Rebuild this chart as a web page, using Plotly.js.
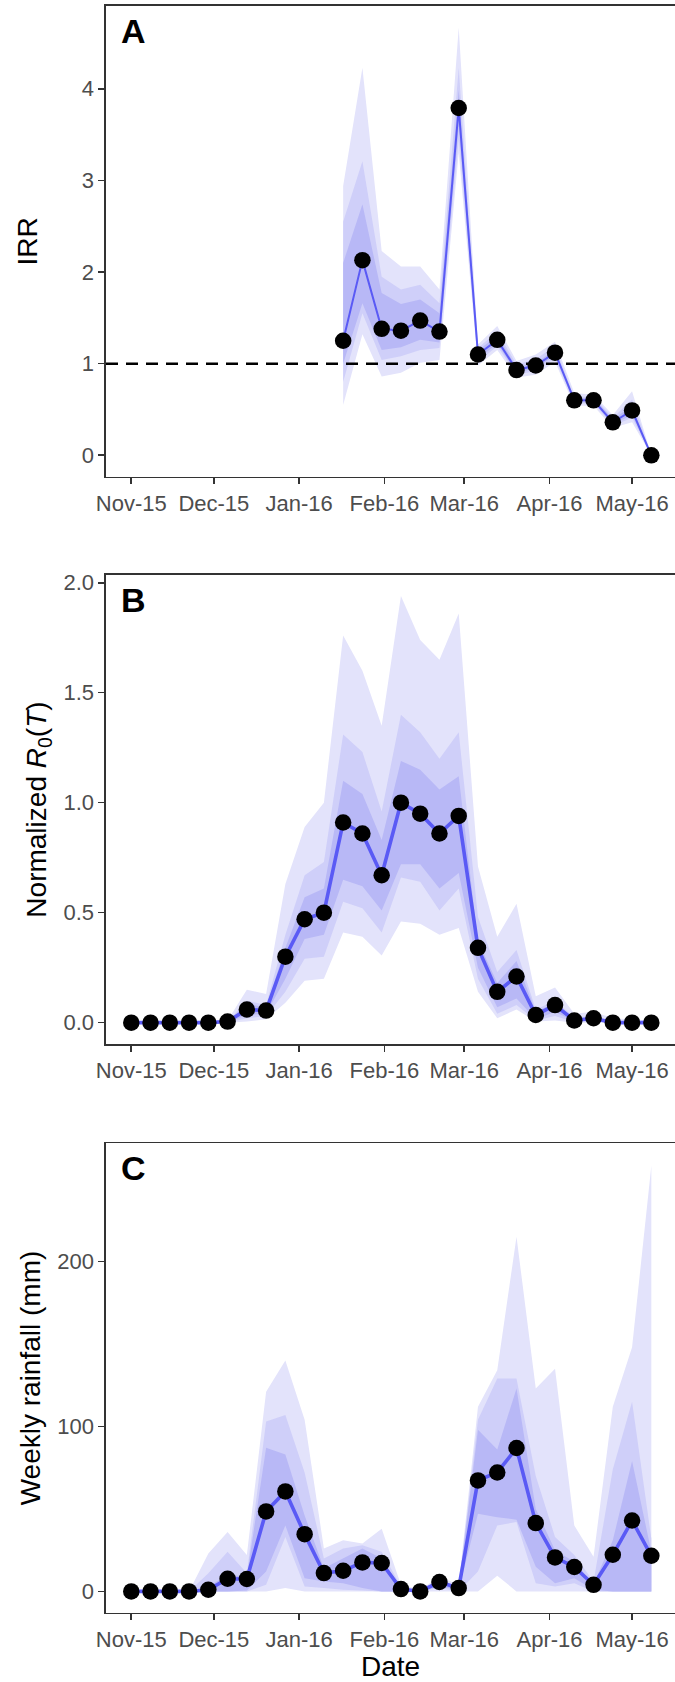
<!DOCTYPE html>
<html>
<head>
<meta charset="utf-8">
<script src="https://cdn.plot.ly/plotly-3.0.1.min.js"></script>
<style>html,body{margin:0;padding:0;background:#fff;}#chart{width:675px;height:1682px;}</style>
</head>
<body>
<div id="chart"></div>
<script>
// ---------- data ----------
const weeks = ['2015-11-01','2015-11-08','2015-11-15','2015-11-22','2015-11-29','2015-12-06','2015-12-13',
  '2015-12-20','2015-12-27','2016-01-03','2016-01-10','2016-01-17','2016-01-24','2016-01-31','2016-02-07',
  '2016-02-14','2016-02-21','2016-02-28','2016-03-06','2016-03-13','2016-03-20','2016-03-27','2016-04-03',
  '2016-04-10','2016-04-17','2016-04-24','2016-05-01','2016-05-08'];
const irrWeeks = weeks.slice(11);

// Panel A: IRR (weeks from 17 Jan 2016)
const irr        = [1.25,2.13,1.38,1.36,1.47,1.35,3.79,1.10,1.26,0.93,0.98,1.12,0.60,0.60,0.36,0.49,0.00];
const irrOuterLo = [0.55,1.32,0.86,0.90,1.01,1.04,3.30,0.98,1.15,0.85,0.88,1.02,0.54,0.54,0.30,0.36,0.00];
const irrOuterHi = [2.94,4.23,2.23,2.06,2.06,1.81,4.67,1.21,1.41,1.03,1.10,1.24,0.68,0.66,0.44,0.70,0.00];
const irrMidLo   = [0.80,1.55,1.04,1.08,1.15,1.17,3.45,1.02,1.19,0.88,0.92,1.06,0.56,0.57,0.32,0.41,0.00];
const irrMidHi   = [2.55,3.21,1.95,1.81,1.86,1.66,4.23,1.17,1.35,0.99,1.05,1.19,0.64,0.64,0.41,0.61,0.00];
const irrInnerLo = [1.00,1.66,1.15,1.18,1.26,1.23,3.60,1.05,1.22,0.90,0.95,1.09,0.58,0.58,0.34,0.44,0.00];
const irrInnerHi = [2.10,2.74,1.77,1.65,1.70,1.55,3.99,1.14,1.31,0.96,1.01,1.15,0.62,0.63,0.39,0.54,0.00];
const irrReference = 1;

// Panel B: normalized R0(T)
const r0        = [0,0,0,0,0,0.005,0.06,0.055,0.30,0.47,0.50,0.91,0.86,0.67,1.00,0.95,0.86,0.94,0.34,0.14,0.21,0.035,0.08,0.01,0.02,0,0,0];
const r0OuterLo = [0,0,0,0,0,0,0.005,0.015,0.09,0.19,0.20,0.41,0.39,0.305,0.46,0.45,0.40,0.43,0.14,0.02,0.06,0.005,0.01,0,0,0,0,0];
const r0OuterHi = [0,0,0,0,0,0.01,0.15,0.13,0.63,0.89,1.00,1.76,1.60,1.35,1.94,1.74,1.65,1.86,0.71,0.39,0.54,0.12,0.16,0.04,0.05,0.02,0.015,0.01];
const r0MidLo   = [0,0,0,0,0,0,0.02,0.03,0.14,0.29,0.30,0.55,0.52,0.41,0.66,0.64,0.51,0.61,0.20,0.04,0.08,0.01,0.03,0.003,0.005,0,0,0];
const r0MidHi   = [0,0,0,0,0,0.005,0.10,0.08,0.40,0.67,0.73,1.31,1.23,0.96,1.40,1.32,1.20,1.32,0.48,0.23,0.33,0.06,0.10,0.025,0.03,0.01,0.005,0.005];
const r0InnerLo = [0,0,0,0,0,0,0.035,0.04,0.20,0.38,0.40,0.65,0.62,0.51,0.72,0.72,0.61,0.68,0.25,0.07,0.11,0.015,0.05,0.005,0.01,0,0,0];
const r0InnerHi = [0,0,0,0,0,0.005,0.085,0.07,0.34,0.57,0.61,1.10,1.04,0.83,1.19,1.15,1.06,1.12,0.37,0.18,0.28,0.05,0.09,0.02,0.025,0.005,0.003,0.003];

// Panel C: weekly rainfall (mm)
const rain        = [0,0,0,0,1.0,7.7,7.5,48.5,60.6,34.7,11.1,12.5,17.6,17.2,1.4,0,5.7,2.0,67.3,72.1,86.9,41.4,20.6,14.8,4.0,22.2,43.0,21.6];
const rainOuterLo = [0,0,0,0,0,0,0,0,2,0,0,0,0,0,0,0,0,0,0,9.5,0,0,0,0,0,0,0,0];
const rainOuterHi = [0,0,0,0,23,36,22,121,140,104,26,31,29,38,4,1,9,4,112,134,215,123,135,40,21,112,148,258];
const rainMidLo   = [0,0,0,0,0,0,0,4,33,3,2,1,0.5,0,0,0,2,0,12,40,42,5,3,5,0,0,0,0];
const rainMidHi   = [0,0,0,0,11,24,11,103,107,72,20,26,28,24,3,0.5,7,3,104,129,129,70,33,22,6,74,115,32];
const rainInnerLo = [0,0,0,0,0,0,0.5,12,40,8,6,5,2,0,0,0,3,1,47,45,43.5,15,5,8,1,0,0,0];
const rainInnerHi = [0,0,0,0,3,10,9,87,83,46,14,20,26,20,2,0.2,6,2.5,98,86,123,50,25,18,4.5,31,79,24];

const xTickVals = ['2015-11-01','2015-12-01','2016-01-01','2016-02-01','2016-03-01','2016-04-01','2016-05-01'];
const xTickText = ['Nov-15','Dec-15','Jan-16','Feb-16','Mar-16','Apr-16','May-16'];

// ---------- styles ----------
const COL_OUT = '#e3e3fb', COL_MID = '#cfcff9', COL_IN = '#b8b8f6';
const LINE_COL = '#5a5af5';
const FONT = 'Liberation Sans, Arial, sans-serif';

function band(x, lo, hi, color, xa, ya) {
  return {
    x: x.concat(x.slice().reverse()),
    y: hi.concat(lo.slice().reverse()),
    type: 'scatter', mode: 'lines', fill: 'toself', fillcolor: color,
    line: {width: 0, color: color}, hoverinfo: 'skip', showlegend: false,
    xaxis: xa, yaxis: ya
  };
}
function series(x, y, lw, xa, ya) {
  return {
    x: x, y: y, type: 'scatter', mode: 'lines+markers',
    line: {color: LINE_COL, width: lw},
    marker: {color: 'black', size: 16.5},
    showlegend: false, xaxis: xa, yaxis: ya
  };
}

const traces = [
  band(irrWeeks, irrOuterLo, irrOuterHi, COL_OUT, 'x', 'y'),
  band(irrWeeks, irrMidLo, irrMidHi, COL_MID, 'x', 'y'),
  band(irrWeeks, irrInnerLo, irrInnerHi, COL_IN, 'x', 'y'),
  series(irrWeeks, irr, 2, 'x', 'y'),

  band(weeks, r0OuterLo, r0OuterHi, COL_OUT, 'x2', 'y2'),
  band(weeks, r0MidLo, r0MidHi, COL_MID, 'x2', 'y2'),
  band(weeks, r0InnerLo, r0InnerHi, COL_IN, 'x2', 'y2'),
  series(weeks, r0, 3.6, 'x2', 'y2'),

  band(weeks, rainOuterLo, rainOuterHi, COL_OUT, 'x3', 'y3'),
  band(weeks, rainMidLo, rainMidHi, COL_MID, 'x3', 'y3'),
  band(weeks, rainInnerLo, rainInnerHi, COL_IN, 'x3', 'y3'),
  series(weeks, rain, 3.6, 'x3', 'y3')
];

const xRange = ['2015-10-22 19:30', '2016-05-16 14:24'];
function xax(anchor, title) {
  const a = {
    type: 'date', range: xRange, anchor: anchor, domain: [0, 1],
    tickmode: 'array', tickvals: xTickVals, ticktext: xTickText,
    showgrid: false, zeroline: false,
    showline: true, mirror: true, linecolor: '#333', linewidth: 1.6,
    ticks: 'outside', ticklen: 6, tickwidth: 1.6, tickcolor: '#333',
    tickfont: {family: FONT, size: 22, color: '#4d4d4d'},
    fixedrange: true
  };
  if (title) a.title = {text: title, font: {family: FONT, size: 28, color: 'black'}, standoff: 6};
  return a;
}
function yax(anchor, domain, range, vals, text, title, standoff) {
  return {
    anchor: anchor, domain: domain, range: range,
    tickmode: 'array', tickvals: vals, ticktext: text,
    showgrid: false, zeroline: false,
    showline: true, mirror: false, linecolor: '#333', linewidth: 1.6,
    ticks: 'outside', ticklen: 6, tickwidth: 1.6, tickcolor: '#333',
    tickfont: {family: FONT, size: 22, color: '#4d4d4d'},
    title: {text: title, font: {family: FONT, size: 28, color: 'black'}, standoff: standoff},
    fixedrange: true
  };
}

const H = 1682;
const dom = (top, bottom) => [1 - bottom / H, 1 - top / H];

const layout = {
  width: 675, height: 1682,
  margin: {l: 106, r: 0, t: 0, b: 0},
  paper_bgcolor: 'white', plot_bgcolor: 'white',
  showlegend: false,
  font: {family: FONT},
  xaxis: xax('y'),
  xaxis2: xax('y2'),
  xaxis3: xax('y3', 'Date'),
  yaxis: yax('x', dom(6, 476.7), [-0.2335, 4.9035], [0,1,2,3,4], ['0','1','2','3','4'], 'IRR', 36),
  yaxis2: yax('x2', dom(575, 1044), [-0.097, 2.035], [0,0.5,1,1.5,2], ['0.0','0.5','1.0','1.5','2.0'],
              'Normalized <i>R</i><sub>0</sub>(<i>T</i>)', 8),
  yaxis3: yax('x3', dom(1143.3, 1612.7), [-12.9, 271.6], [0,100,200], ['0','100','200'], 'Weekly rainfall (mm)', 8),
  shapes: [{
    type: 'line', xref: 'x domain', x0: 0, x1: 1, yref: 'y', y0: irrReference, y1: irrReference,
    line: {color: 'black', width: 2.4, dash: '12px,8px'}, layer: 'above'
  }],
  annotations: [
    {text: '<b>A</b>', xref: 'x domain', yref: 'y domain', x: 0.022, y: 1, xanchor: 'left', yanchor: 'top',
     yshift: -4, showarrow: false, font: {family: FONT, size: 34, color: 'black'}},
    {text: '<b>B</b>', xref: 'x2 domain', yref: 'y2 domain', x: 0.022, y: 1, xanchor: 'left', yanchor: 'top',
     yshift: -4, showarrow: false, font: {family: FONT, size: 34, color: 'black'}},
    {text: '<b>C</b>', xref: 'x3 domain', yref: 'y3 domain', x: 0.022, y: 1, xanchor: 'left', yanchor: 'top',
     yshift: -4, showarrow: false, font: {family: FONT, size: 34, color: 'black'}}
  ]
};

Plotly.newPlot('chart', traces, layout, {displayModeBar: false, staticPlot: true});
</script>
</body>
</html>
